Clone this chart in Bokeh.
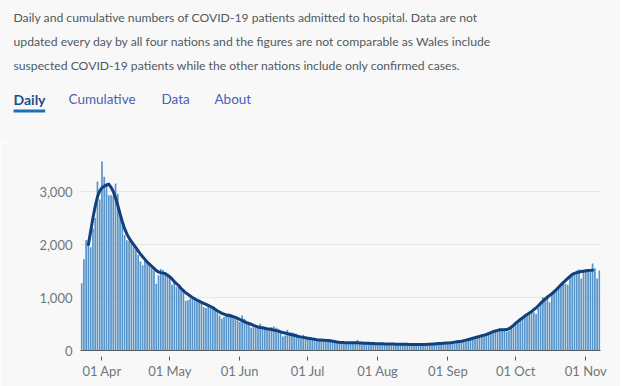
import pandas as pd
from bokeh.plotting import figure
from bokeh.layouts import column
from bokeh.core.properties import value
from bokeh.models import (Range1d, FixedTicker, DatetimeTickFormatter,
                          NumeralTickFormatter)
from bokeh.embed import file_html
from bokeh.resources import INLINE

# ---------------- data ----------------
start_date = "2020-03-23"
end_date = "2020-11-07"
avg_start = "2020-03-26"
avg_end = "2020-11-04"

daily_mar = [1270, 1720, 2080, 2090, 1950, 2300, 2500, 3190, 2850]
daily_apr = [3565, 3280, 3160, 2930, 2930, 2920, 3150, 2960, 2640, 2420,
             2180, 2080, 2070, 2030, 1950, 1900, 1800, 1680, 1610, 1720,
             1690, 1620, 1550, 1510, 1260, 1420, 1540, 1520, 1480, 1440]
daily_may = [1380, 1240, 1290, 1200, 1200, 1180, 1130, 940, 950, 975,
             990, 950, 915, 910, 880, 820, 800, 850, 830, 815,
             755, 720, 660, 600, 630, 690, 705, 690, 660, 630, 570]
daily_jun = [540, 660, 600, 540, 500, 430, 440, 430, 440, 503,
             440, 430, 415, 390, 440, 453, 430, 410, 365, 265,
             283, 390, 345, 340, 327, 315, 250, 220, 296, 264]
daily_jul = [240, 240, 226, 214, 220, 201, 201, 189, 201, 189,
             176, 151, 176, 164, 151, 145, 151, 138, 138, 145,
             150, 140, 200, 150, 140, 135, 145, 140, 130, 125, 135]
daily_aug = [120, 110, 130, 135, 120, 125, 115, 105, 120, 125,
             115, 110, 120, 115, 105, 100, 110, 120, 115, 110,
             100, 95, 110, 115, 120, 110, 125, 130, 135, 125, 140]
daily_sep = [145, 140, 150, 165, 160, 170, 175, 185, 190, 200,
             215, 220, 235, 250, 260, 270, 275, 300, 310, 330,
             350, 365, 375, 410, 400, 415, 360, 370, 430, 470]
daily_oct = [500, 540, 580, 600, 640, 692, 700, 711, 720, 690,
             800, 880, 1006, 1000, 1040, 912, 1100, 1130, 1160, 1195,
             1250, 1290, 1260, 1240, 1400, 1415, 1470, 1509, 1528, 1360, 1509]
daily_nov = [1509, 1520, 1490, 1640, 1550, 1360, 1510]

avg_mar = [2000, 2250, 2500, 2720, 2900, 3010]
avg_apr = [3070, 3100, 3120, 3140, 3080, 3000, 2880, 2740, 2580, 2430,
           2300, 2200, 2120, 2060, 2000, 1940, 1880, 1820, 1770, 1720,
           1670, 1630, 1590, 1550, 1510, 1480, 1470, 1460, 1450, 1420]
avg_may = [1390, 1350, 1300, 1260, 1220, 1170, 1130, 1090, 1060, 1030,
           1000, 975, 950, 930, 910, 890, 870, 850, 830, 810,
           780, 750, 725, 700, 685, 670, 660, 650, 640, 625, 605]
avg_jun = [585, 565, 545, 525, 510, 495, 475, 458, 445, 435,
           428, 420, 412, 405, 395, 385, 375, 365, 352, 340,
           330, 318, 308, 298, 288, 276, 265, 256, 248, 240]
avg_jul = [233, 226, 219, 212, 205, 200, 197, 194, 191, 188,
           182, 175, 168, 162, 157, 153, 150, 148, 148, 148,
           147, 146, 145, 143, 141, 139, 137, 135, 133, 131, 129]
avg_aug = [128, 127, 126, 125, 124, 123, 122, 121, 120, 120,
           119, 118, 117, 116, 115, 114, 113, 113, 112, 112,
           113, 114, 116, 118, 121, 124, 127, 130, 133, 137, 140]
avg_sep = [143, 147, 152, 158, 164, 170, 176, 186, 196, 207,
           218, 230, 242, 254, 266, 278, 290, 302, 320, 338,
           356, 368, 380, 390, 392, 393, 395, 410, 440, 475]
avg_oct = [515, 550, 585, 615, 650, 680, 705, 735, 770, 805,
           845, 890, 930, 970, 1005, 1040, 1070, 1110, 1150, 1195,
           1240, 1280, 1320, 1360, 1400, 1435, 1455, 1470, 1480, 1490, 1497]
avg_nov = [1503, 1508, 1512, 1516]

month_ticks = ["2020-04-01", "2020-05-01", "2020-06-01", "2020-07-01",
               "2020-08-01", "2020-09-01", "2020-10-01", "2020-11-01"]
y_ticks = [0, 1000, 2000, 3000]

intro_lines = [
    "Daily and cumulative numbers of COVID-19 patients admitted to hospital. Data are not",
    "updated every day by all four nations and the figures are not comparable as Wales include",
    "suspected COVID-19 patients while the other nations include only confirmed cases.",
]
tabs = ["Daily", "Cumulative", "Data", "About"]

# ---------------- build ----------------
daily = (daily_mar + daily_apr + daily_may + daily_jun + daily_jul +
         daily_aug + daily_sep + daily_oct + daily_nov)
avg7 = (avg_mar + avg_apr + avg_may + avg_jun + avg_jul +
        avg_aug + avg_sep + avg_oct + avg_nov)
dates = pd.date_range(start_date, end_date, freq="D")
avg_dates = pd.date_range(avg_start, avg_end, freq="D")

BG = "#f8f8f8"
DAY_MS = 86400000
W = 620
HEAD_H = 142

# ---- header (text + tabs) ----
h = figure(width=W, height=HEAD_H, output_backend="svg", toolbar_location=None,
           x_range=Range1d(0, W), y_range=Range1d(HEAD_H, 0),
           x_axis_type=None, y_axis_type=None,
           min_border=0, min_border_left=0, min_border_right=0,
           min_border_top=0, min_border_bottom=0,
           background_fill_color=BG, border_fill_color=BG,
           outline_line_color=None)
h.xgrid.grid_line_color = None
h.ygrid.grid_line_color = None

h.text(x=[13, 13, 13], y=[17, 41, 64.5], text=intro_lines,
       text_font=value("Lato"), text_font_size="12.2px",
       text_color="#505a5f", text_baseline="alphabetic")

tab_x = [13, 68, 161, 214]
h.text(x=tab_x[:1], y=[98.5], text=tabs[:1], text_font=value("Lato"),
       text_font_size="14px", text_font_style="bold",
       text_color="#1f4e8c", text_baseline="alphabetic")
h.text(x=tab_x[1:], y=[98.5] * 3, text=tabs[1:], text_font=value("Lato"),
       text_font_size="13.5px", text_color="#4a5fb5",
       text_baseline="alphabetic")
h.quad(left=[13], right=[44.7], top=[109], bottom=[112],
       fill_color="#1d70b8", line_color=None)

# ---- chart ----
p = figure(width=W, height=244, x_axis_type="datetime",
           output_backend="svg", toolbar_location=None,
           x_range=Range1d(pd.Timestamp(start_date) - pd.Timedelta(hours=12),
                           pd.Timestamp(end_date) + pd.Timedelta(hours=12)),
           y_range=Range1d(0, 3774),
           min_border_left=80, min_border_right=20,
           min_border_top=8, min_border_bottom=36,
           background_fill_color=BG, border_fill_color=BG,
           outline_line_color=None)

for fig in (h, p):
    try:
        fig.frame_align = False
    except Exception:
        pass

p.vbar(x=dates, top=daily, width=0.75 * DAY_MS,
       fill_color="#5694ca", line_color=None)
p.line(avg_dates, avg7, line_color="#12407c", line_width=3,
       line_join="round", line_cap="round")

xa = p.xaxis[0]
xa.ticker = FixedTicker(ticks=[pd.Timestamp(t).value // 10**6 for t in month_ticks])
xa.formatter = DatetimeTickFormatter(days="%d %b", months="%d %b")
xa.axis_line_color = "#505a5f"
xa.major_tick_line_color = "#505a5f"
xa.major_tick_in = -6
xa.major_tick_out = 10
xa.minor_tick_line_color = None
xa.major_label_standoff = 2
xa.major_label_text_color = "#6f777b"
xa.major_label_text_font = "Lato"
xa.major_label_text_font_size = "13px"

ya = p.yaxis[0]
ya.ticker = FixedTicker(ticks=y_ticks)
ya.formatter = NumeralTickFormatter(format="0,0")
ya.axis_line_color = None
ya.major_tick_line_color = None
ya.minor_tick_line_color = None
ya.major_tick_out = 0
ya.major_tick_in = 0
ya.major_label_standoff = 8
ya.major_label_text_color = "#6f777b"
ya.major_label_text_font = "Lato"
ya.major_label_text_font_size = "13px"

p.xgrid.grid_line_color = None
p.ygrid.grid_line_color = "#e6e6e6"

layout = column(h, p, spacing=0)
open("out.html", "w").write(file_html(layout, INLINE))
